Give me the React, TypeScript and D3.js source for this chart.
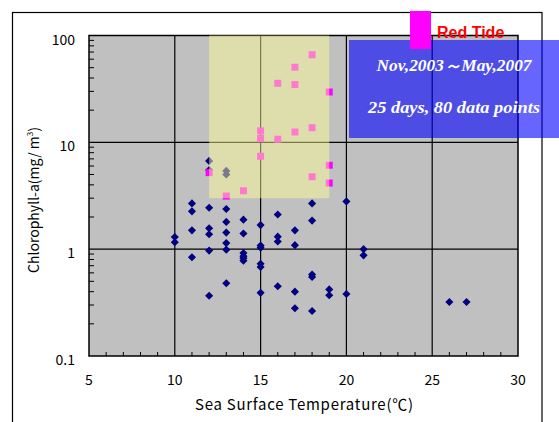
import React, { useEffect, useRef } from 'react';
import * as d3 from 'd3';

// chlorophyll vs. sea surface temperature (blue = normal, magenta = red tide)
const blueTemp = [10, 10, 11, 11, 11, 11, 12, 12, 12, 12, 12, 12, 12, 13, 13, 13, 13, 13, 13, 13, 13,
  14, 14, 14, 14, 14, 14, 15, 15, 15, 15, 15, 15, 16, 16, 16, 16, 17, 17, 17, 17,
  18, 18, 18, 18, 18, 19, 19, 20, 20, 21, 21, 26, 27];
const blueChl = [1.3, 1.16, 2.68, 2.26, 1.5, 0.84, 6.7, 5.5, 2.44, 1.57, 1.38, 0.97, 0.366, 5.4, 5.0, 2.38, 1.8, 1.43, 1.14, 0.99, 0.48,
  1.89, 1.4, 0.92, 0.86, 0.82, 0.78, 1.68, 1.08, 1.03, 0.73, 0.68, 0.39, 2.11, 1.31, 1.18, 0.45, 1.5, 1.09, 0.4, 0.28,
  2.68, 1.85, 0.58, 0.55, 0.264, 0.42, 0.37, 2.8, 0.38, 1.0, 0.875, 0.32, 0.32];

const redTemp = [18, 17, 16, 17, 19, 15, 15, 16, 17, 18, 15, 19, 12, 18, 19, 14, 13];
const redChl = [66, 50.5, 35.7, 34.7, 29.6, 12.8, 10.9, 10.7, 12.5, 13.7, 7.4, 6.1, 5.2, 4.76, 4.16, 3.52, 3.14];

const xTicks = [5, 10, 15, 20, 25, 30];
const yTicks = [0.1, 1, 10, 100];

const Chart = () => {
  const svgRef = useRef(null);

  useEffect(() => {
    const svg = d3.select(svgRef.current);
    svg.selectAll('*').remove();

    const x = d3.scaleLinear().domain([5, 30]).range([89, 518]);
    const y = d3.scaleLog().domain([0.1, 100]).range([356, 35.5]);
    const sans = "'Noto Sans CJK JP', 'Liberation Sans', sans-serif";

    // outer frame
    svg.append('rect')
      .attr('x', 12.5).attr('y', 12.5).attr('width', 529.5).attr('height', 420)
      .attr('fill', '#fff').attr('stroke', '#000').attr('stroke-width', 1.2);

    // plot area
    svg.append('rect')
      .attr('x', x(5)).attr('y', y(100))
      .attr('width', x(30) - x(5)).attr('height', y(0.1) - y(100))
      .attr('fill', '#c0c0c0');

    // grid lines
    svg.selectAll('.vgrid')
      .data(xTicks.slice(1, -1))
      .enter().append('line')
      .attr('x1', d => x(d)).attr('x2', d => x(d))
      .attr('y1', y(100)).attr('y2', y(0.1))
      .attr('stroke', '#000').attr('stroke-width', 1.2);
    svg.selectAll('.hgrid')
      .data(yTicks.slice(1, -1))
      .enter().append('line')
      .attr('x1', x(5)).attr('x2', x(30))
      .attr('y1', d => y(d)).attr('y2', d => y(d))
      .attr('stroke', '#000').attr('stroke-width', 1.2);

    // minor ticks
    const xMinor = d3.range(6, 30).filter(d => d % 5 !== 0);
    svg.selectAll('.xminor')
      .data(xMinor)
      .enter().append('line')
      .attr('x1', d => x(d)).attr('x2', d => x(d))
      .attr('y1', y(0.1)).attr('y2', y(0.1) - 4)
      .attr('stroke', '#000');
    const yMinor = [];
    [0.1, 1, 10].forEach(base => { for (let k = 2; k <= 9; k++) yMinor.push(base * k); });
    svg.selectAll('.yminor')
      .data(yMinor)
      .enter().append('line')
      .attr('x1', x(5)).attr('x2', x(5) + 5)
      .attr('y1', d => y(d)).attr('y2', d => y(d))
      .attr('stroke', '#000');

    // plot border
    svg.append('rect')
      .attr('x', x(5)).attr('y', y(100))
      .attr('width', x(30) - x(5)).attr('height', y(0.1) - y(100))
      .attr('fill', 'none').attr('stroke', '#000').attr('stroke-width', 1.5);

    // blue diamonds
    const diamond = d3.symbol().type(d3.symbolDiamond2).size(42);
    svg.selectAll('.blue')
      .data(blueTemp.map((t, i) => [t, blueChl[i]]))
      .enter().append('path')
      .attr('d', diamond)
      .attr('transform', d => `translate(${x(d[0])},${y(d[1])})`)
      .attr('fill', '#000080');

    // red tide squares
    svg.selectAll('.red')
      .data(redTemp.map((t, i) => [t, redChl[i]]))
      .enter().append('rect')
      .attr('x', d => x(d[0]) - 3.5).attr('y', d => y(d[1]) - 3.5)
      .attr('width', 7).attr('height', 7)
      .attr('fill', '#ff00ff');

    // highlighted range
    svg.append('rect')
      .attr('x', x(12)).attr('y', y(100))
      .attr('width', x(19) - x(12)).attr('height', y(3) - y(100))
      .attr('fill', 'rgb(255,255,153)').attr('fill-opacity', 0.48);

    // tick labels
    svg.selectAll('.xlab')
      .data(xTicks)
      .enter().append('text')
      .attr('x', d => x(d)).attr('y', 385)
      .attr('text-anchor', 'middle')
      .attr('font-family', sans).attr('font-size', 14)
      .text(d => d);
    svg.selectAll('.ylab')
      .data(yTicks)
      .enter().append('text')
      .attr('x', 75).attr('y', d => y(d) + 9)
      .attr('text-anchor', 'end')
      .attr('font-family', sans).attr('font-size', 14)
      .text(d => d);

    // axis titles
    svg.append('text')
      .attr('x', 304).attr('y', 410)
      .attr('text-anchor', 'middle')
      .attr('font-family', sans).attr('font-size', 15)
      .attr('textLength', 218).attr('lengthAdjust', 'spacing')
      .text('Sea Surface Temperature(℃)');
    const yt = svg.append('text')
      .attr('transform', 'translate(39,200) rotate(-90)')
      .attr('text-anchor', 'middle')
      .attr('font-family', sans).attr('font-size', 14);
    yt.append('tspan').text('Chlorophyll-a(mg/ m');
    yt.append('tspan').attr('font-size', 8).attr('dy', -6).text('3');
    yt.append('tspan').attr('dy', 6).text(')');

    // info box
    svg.append('rect')
      .attr('x', 349).attr('y', 40).attr('width', 215).attr('height', 98)
      .attr('fill', 'rgb(0,0,255)').attr('fill-opacity', 0.6);
    const serif = "'Liberation Serif', 'DejaVu Serif', serif";
    svg.append('text')
      .attr('x', 454).attr('y', 71)
      .attr('text-anchor', 'middle')
      .attr('font-family', serif).attr('font-style', 'italic').attr('font-weight', 'bold')
      .attr('font-size', 16).attr('fill', '#fff')
      .attr('textLength', 155).attr('lengthAdjust', 'spacingAndGlyphs')
      .text('Nov,2003～May,2007');
    svg.append('text')
      .attr('x', 454).attr('y', 113)
      .attr('text-anchor', 'middle')
      .attr('font-family', serif).attr('font-style', 'italic').attr('font-weight', 'bold')
      .attr('font-size', 16).attr('fill', '#fff')
      .attr('textLength', 172).attr('lengthAdjust', 'spacingAndGlyphs')
      .text('25 days, 80 data points');

    // legend
    svg.append('rect')
      .attr('x', 410).attr('y', 11).attr('width', 21).attr('height', 38)
      .attr('fill', '#ff00ff');
    svg.append('text')
      .attr('x', 437).attr('y', 38)
      .attr('font-family', "'Liberation Sans', Arial, sans-serif").attr('font-weight', 'bold')
      .attr('font-size', 16).attr('fill', '#ff0000')
      .text('Red Tide');
  }, []);

  return (
    <svg ref={svgRef} width={559} height={422}
      style={{ position: 'absolute', left: 0, top: 0, background: '#fff' }}></svg>
  );
};

export default function App() {
  return <Chart />;
}
